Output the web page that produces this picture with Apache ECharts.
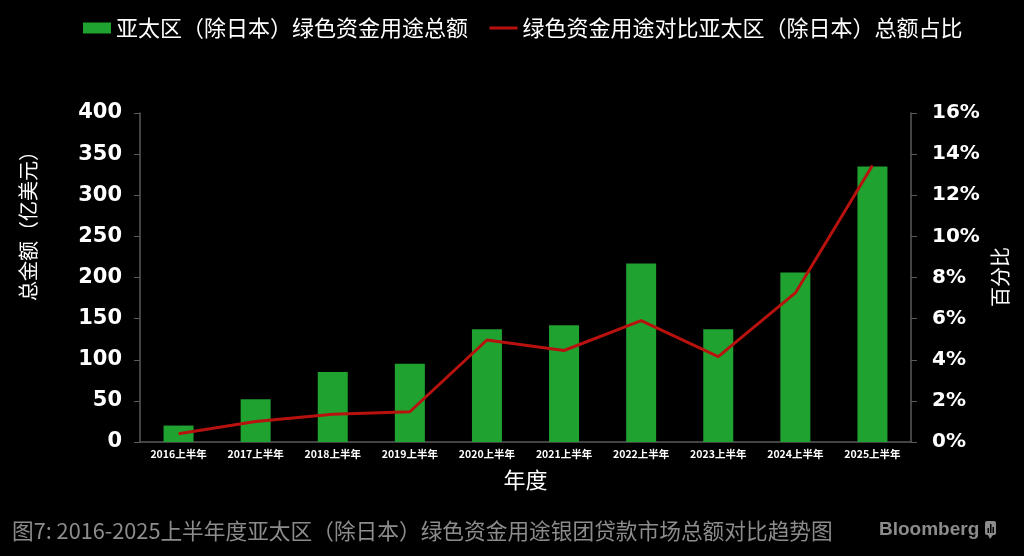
<!DOCTYPE html>
<html>
<head>
<meta charset="utf-8">
<script src="https://cdn.jsdelivr.net/npm/echarts@6/dist/echarts.min.js"></script>
<style>
html,body{margin:0;padding:0;background:#000;}
#c{width:1024px;height:556px;}
</style>
</head>
<body>
<div id="c"></div>
<script>
var categories = ['2016上半年','2017上半年','2018上半年','2019上半年','2020上半年','2021上半年','2022上半年','2023上半年','2024上半年','2025上半年'];
var amountValues = [20, 52, 85, 95, 137, 142, 217, 137, 206, 335];
var shareValues = [0.4, 1.0, 1.35, 1.47, 4.96, 4.45, 5.9, 4.15, 7.25, 13.45];
var seriesNames = ['亚太区（除日本）绿色资金用途总额', '绿色资金用途对比亚太区（除日本）总额占比'];
var leftAxisName = '总金额（亿美元）';
var rightAxisName = '百分比';
var xAxisName = '年度';
var caption = '图7: 2016-2025上半年度亚太区（除日本）绿色资金用途银团贷款市场总额对比趋势图';
var brand = 'Bloomberg';

var cjk = '"Noto Sans CJK SC", "Noto Sans", sans-serif';
var numFont = '"DejaVu Sans", Verdana, sans-serif';
var chart = echarts.init(document.getElementById('c'), null, {renderer: 'canvas'});
var axisGray = '#5a5a5a';
var option = {
  backgroundColor: '#000',
  animation: false,
  legend: {
    left: 78,
    top: 12,
    itemWidth: 28,
    itemHeight: 11,
    itemGap: 20,
    textStyle: {color: '#fff', fontSize: 22, fontFamily: cjk},
    data: [
      {name: seriesNames[0], icon: 'rect'},
      {name: seriesNames[1], itemStyle: {opacity: 0}, lineStyle: {color: '#b8120f', width: 3}}
    ]
  },
  grid: {left: 140, right: 113, top: 113, bottom: 114, containLabel: false},
  xAxis: {
    type: 'category',
    data: categories,
    name: xAxisName,
    nameLocation: 'middle',
    nameGap: 27,
    nameTextStyle: {color: '#fff', fontSize: 22, fontFamily: cjk},
    axisLine: {lineStyle: {color: axisGray, width: 1.5}},
    axisTick: {show: false},
    axisLabel: {color: '#fff', fontSize: 10.5, fontWeight: 'bold', fontFamily: cjk, margin: 7, interval: 0}
  },
  yAxis: [{
    type: 'value', min: 0, max: 400, interval: 50,
    axisLine: {show: true, lineStyle: {color: axisGray, width: 1.5}},
    axisTick: {show: true, length: 6, lineStyle: {color: axisGray}},
    splitLine: {show: false},
    axisLabel: {color: '#fff', fontSize: 21, fontWeight: 'bold', fontFamily: numFont, margin: 18}
  }, {
    type: 'value', min: 0, max: 16, interval: 2, position: 'right',
    axisLine: {show: true, lineStyle: {color: axisGray, width: 1.5}},
    axisTick: {show: true, length: 6, lineStyle: {color: axisGray}},
    splitLine: {show: false},
    axisLabel: {color: '#fff', fontSize: 20, fontWeight: 'bold', fontFamily: numFont, margin: 21, formatter: '{value}%'}
  }],
  series: [{
    name: seriesNames[0],
    type: 'bar',
    data: amountValues,
    barWidth: 30,
    itemStyle: {color: '#1fa22f'}
  }, {
    name: seriesNames[1],
    type: 'line',
    yAxisIndex: 1,
    data: shareValues,
    symbol: 'none',
    lineStyle: {color: '#b8120f', width: 3},
    itemStyle: {color: '#b8120f'}
  }],
  graphic: [
    {type: 'text', x: 28, y: 221, rotation: Math.PI / 2,
     style: {text: leftAxisName, fill: '#fff', font: '20px ' + cjk, align: 'center', verticalAlign: 'middle'}},
    {type: 'text', x: 1000, y: 277, rotation: Math.PI / 2,
     style: {text: rightAxisName, fill: '#fff', font: '20px ' + cjk, align: 'center', verticalAlign: 'middle'}},
    {type: 'text', x: 12, y: 531,
     style: {text: caption, fill: '#8c8c8c', font: '21.7px ' + cjk, align: 'left', verticalAlign: 'middle'}},
    {type: 'text', x: 879, y: 530,
     style: {text: brand, fill: '#8c8c8c', font: 'bold 19px "Liberation Sans", Arial, sans-serif', align: 'left', verticalAlign: 'middle'}},
    {type: 'rect', shape: {x: 985, y: 521, width: 11, height: 14, r: 2}, style: {fill: '#8c8c8c'}},
    {type: 'polygon', shape: {points: [[988, 535], [993, 535], [990, 539]]}, style: {fill: '#8c8c8c'}},
    {type: 'rect', shape: {x: 987.5, y: 528, width: 1.5, height: 5}, style: {fill: '#000'}},
    {type: 'rect', shape: {x: 990, y: 524, width: 1.5, height: 9}, style: {fill: '#000'}},
    {type: 'rect', shape: {x: 992.5, y: 527, width: 1.5, height: 6}, style: {fill: '#000'}}
  ]
};
chart.setOption(option);
</script>
</body>
</html>
